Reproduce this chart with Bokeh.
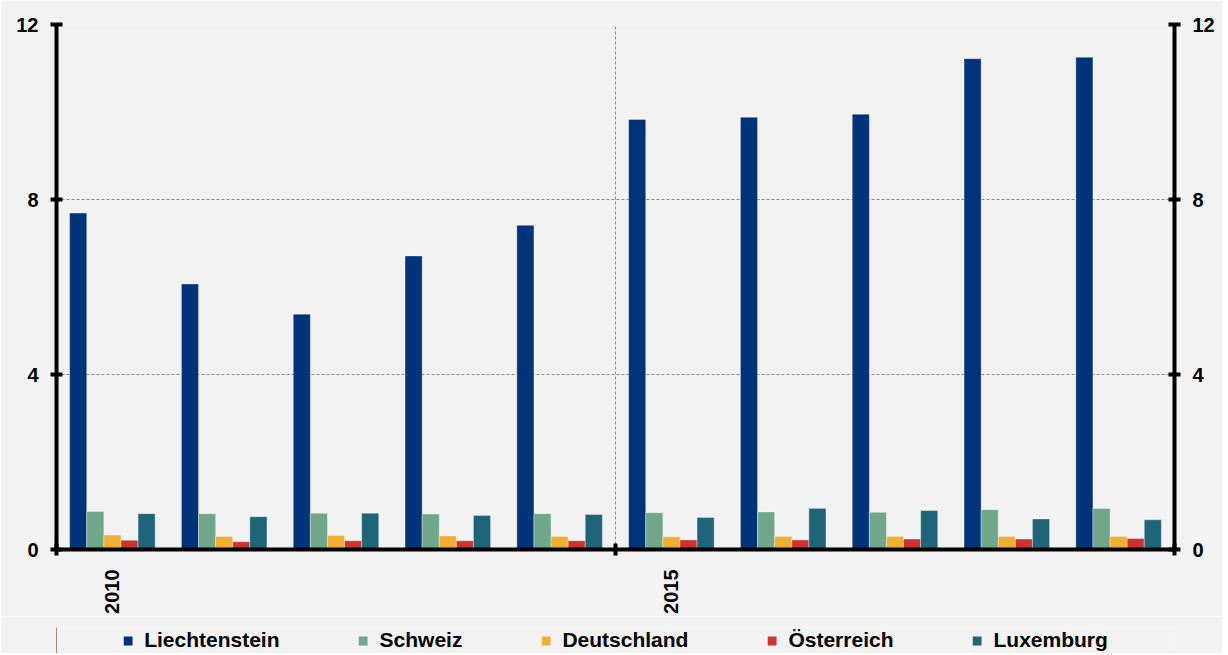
from bokeh.plotting import figure
from bokeh.models import (FixedTicker, LinearAxis, Range1d, Legend, LegendItem,
                          ColumnDataSource)
from bokeh.transform import dodge
from bokeh.layouts import column
from bokeh.embed import file_html
from bokeh.resources import INLINE

years = [2010, 2011, 2012, 2013, 2014, 2015, 2016, 2017, 2018, 2019]
series_names = ["Liechtenstein", "Schweiz", "Deutschland", "Österreich", "Luxemburg"]
liechtenstein = [7.69, 6.07, 5.38, 6.71, 7.41, 9.83, 9.88, 9.95, 11.22, 11.25]
schweiz = [0.87, 0.82, 0.83, 0.81, 0.82, 0.84, 0.86, 0.85, 0.91, 0.94]
deutschland = [0.33, 0.30, 0.32, 0.31, 0.30, 0.29, 0.30, 0.30, 0.30, 0.30]
oesterreich = [0.21, 0.18, 0.20, 0.20, 0.20, 0.22, 0.22, 0.24, 0.24, 0.25]
luxemburg = [0.82, 0.75, 0.83, 0.78, 0.80, 0.73, 0.94, 0.89, 0.70, 0.68]
colors = ["#00347a", "#70a68a", "#f0ae32", "#cc3430", "#20647a"]
y_ticks = [0, 4, 8, 12]

values = [liechtenstein, schweiz, deutschland, oesterreich, luxemburg]
data = {"xc": [i + 0.5 for i in range(len(years))]}
for name, vals in zip(series_names, values):
    data[name] = vals
src = ColumnDataSource(data)

FONT = "Liberation Sans"
BG = "#f2f2f2"
W = 1222

p = figure(width=W, height=616, x_range=Range1d(0, len(years)), y_range=Range1d(0, 12),
           output_backend="svg", toolbar_location=None,
           min_border_left=56, min_border_right=48, min_border_top=24, min_border_bottom=66,
           background_fill_color=BG, border_fill_color=BG,
           outline_line_color=None)

bw = 0.153
renderers = []
for k, (name, col) in enumerate(zip(series_names, colors)):
    off = (k - 2) * bw
    r = p.vbar(x=dodge("xc", off, range=p.x_range), top=name, width=bw, source=src,
               fill_color=col, line_color="white", line_alpha=0.35, line_width=1)
    renderers.append(r)

# axes
label_pos = [i + 0.5 for i, y in enumerate(years) if y % 5 == 0]
label_txt = {i + 0.5: str(y) for i, y in enumerate(years) if y % 5 == 0}
xa = p.xaxis[0]
xa.ticker = FixedTicker(ticks=label_pos, minor_ticks=[0, 5, 10])
xa.major_label_overrides = label_txt
xa.major_label_orientation = 1.5707963
xa.major_tick_line_color = None
xa.major_tick_in = 0
xa.major_tick_out = 0
xa.minor_tick_line_color = "black"
xa.minor_tick_line_width = 4
xa.minor_tick_in = 6
xa.minor_tick_out = 6
xa.axis_line_width = 4
xa.axis_line_color = "black"
xa.major_label_standoff = 14
xa.major_label_text_font = FONT
xa.major_label_text_font_style = "bold"
xa.major_label_text_font_size = "20px"
xa.major_label_text_color = "black"

ya = p.yaxis[0]
ra = LinearAxis()
p.add_layout(ra, "right")
for ax in (ya, ra):
    ax.ticker = FixedTicker(ticks=y_ticks, minor_ticks=[])
    ax.axis_line_width = 4
    ax.axis_line_color = "black"
    ax.major_tick_line_width = 4
    ax.major_tick_line_color = "black"
    ax.major_tick_in = 6
    ax.major_tick_out = 6
    ax.minor_tick_line_color = None
    ax.major_label_standoff = 12
    ax.major_label_text_font = FONT
    ax.major_label_text_font_style = "bold"
    ax.major_label_text_font_size = "20px"
    ax.major_label_text_color = "black"

p.ygrid.ticker = FixedTicker(ticks=y_ticks)
p.ygrid.grid_line_color = "#8a8a8a"
p.ygrid.grid_line_dash = "3 2"
p.ygrid.grid_line_width = 1
p.xgrid.ticker = FixedTicker(ticks=[5])
p.xgrid.grid_line_color = "#8a8a8a"
p.xgrid.grid_line_dash = "3 2"
p.xgrid.grid_line_width = 1

# legend strip below the chart (frame aligned with the chart above)
lf = figure(width=W, height=37, x_range=Range1d(0, 1), y_range=Range1d(0, 1),
            output_backend="svg", toolbar_location=None,
            min_border_left=56, min_border_right=48, min_border_top=11, min_border_bottom=0,
            background_fill_color=BG, border_fill_color=BG, outline_line_color=None)
lf.axis.visible = False
lf.grid.visible = False
dummy = ColumnDataSource({"x": [-10], "top": [1]})
lrends = [lf.vbar(x="x", top="top", width=0.1, source=dummy, fill_color=c, line_color=None)
          for c in colors]
legend = Legend(items=[LegendItem(label=n, renderers=[r]) for n, r in zip(series_names, lrends)],
                orientation="horizontal", location="center",
                glyph_width=11, glyph_height=11, label_standoff=11, spacing=78,
                label_text_font=FONT, label_text_font_style="bold",
                label_text_font_size="21px", label_text_color="black",
                label_height=20,
                background_fill_alpha=0, border_line_color=None,
                padding=0, margin=0)
lf.add_layout(legend, "center")

layout = column(p, lf, spacing=0)
open("out.html", "w").write(file_html(layout, INLINE))
